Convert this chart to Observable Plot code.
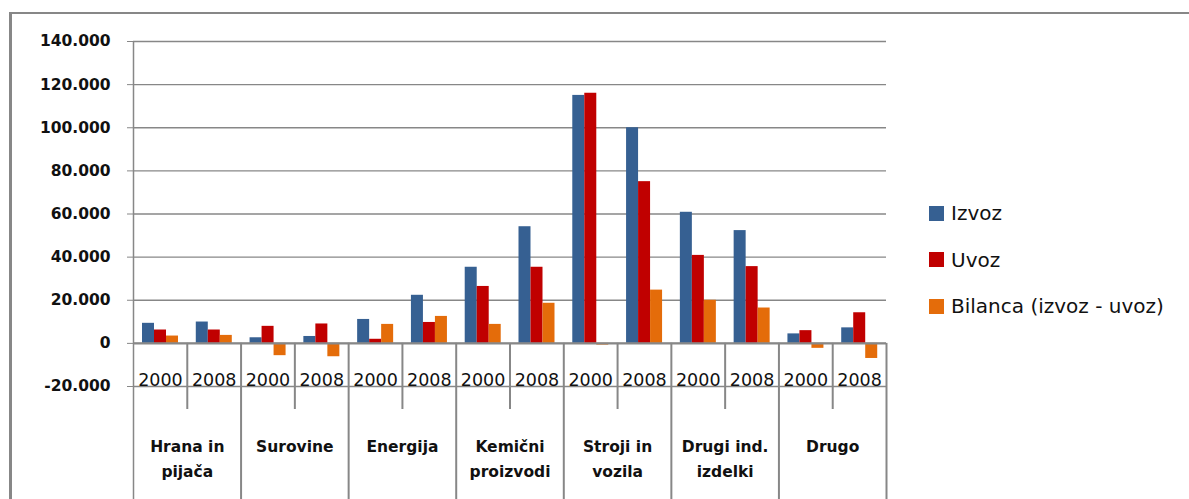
<!DOCTYPE html>
<html><head><meta charset="utf-8">
<script src="https://cdn.jsdelivr.net/npm/d3@7"></script>
<script src="https://cdn.jsdelivr.net/npm/@observablehq/plot@0.6"></script>
<style>
body{margin:0;background:#fff;width:1189px;height:499px;overflow:hidden;position:relative;font-family:"DejaVu Sans",sans-serif}
#frame{position:absolute;left:9px;top:12px;width:1300px;height:600px;border-left:3px solid #878787;border-top:2px solid #878787;box-sizing:border-box}
#chart{position:absolute;left:0;top:0}
#legend{position:absolute;left:929px;top:190px}
.item{display:flex;align-items:center;height:46.5px;font-size:20px;color:#111;white-space:nowrap}
.sw{width:15px;height:15px;margin-right:7px;flex:none}
</style></head><body>
<div id="frame"></div>
<div id="chart"></div>
<div id="legend"></div>
<script>
// ---- data ----
const categories = ["Hrana in\npijača", "Surovine", "Energija", "Kemični\nproizvodi", "Stroji in\nvozila", "Drugi ind.\nizdelki", "Drugo"];
const years = ["2000", "2008"];
const seriesNames = ["Izvoz", "Uvoz", "Bilanca (izvoz - uvoz)"];
const seriesColors = ["#366092", "#C00000", "#E46C0A"];
// order: for each category, 2000 then 2008
const izvoz   = [9300, 9900, 2600, 3200, 11100, 22300, 35300, 54100, 115000, 100000, 60800, 52300, 4400, 7200];
const uvoz    = [6200, 6200, 7900, 9000, 1900, 9700, 26400, 35300, 116000, 75000, 40800, 35600, 5900, 14200];
const bilanca = [3400, 3700, -5700, -6200, 8800, 12500, 8800, 18600, -800, 24700, 20000, 16400, -2300, -7000];
const yTicks = [-20000, 0, 20000, 40000, 60000, 80000, 100000, 120000, 140000];

// ---- build ----
const seriesVals = [izvoz, uvoz, bilanca];
const rows = [];
categories.forEach((c, ci) => years.forEach((yr, yi) => {
  const i = ci * 2 + yi;
  rows.push({key: c + "|" + yr, cat: c, year: yr, vals: seriesVals.map(s => s[i]), first: yi === 0});
}));
const keys = rows.map(d => d.key);

const W = 1189, H = 499, mL = 133, mR = 303, mT = 41, mB = 113;
const bw = (W - mL - mR) / keys.length;
const barW = 12, gapL = 9;
const grey = "#878787";
const fmt = d3.formatLocale({decimal: ",", thousands: ".", grouping: [3], currency: ["", ""], minus: "-"}).format(",");

const marks = [
  Plot.gridY(yTicks, {stroke: grey, strokeOpacity: 1, strokeWidth: 1.3}),
  Plot.axisY(yTicks, {tickSize: 6, tickPadding: 17, tickFormat: fmt, fontSize: 15.5, fontWeight: "bold", stroke: grey, fill: "#111", label: null})
];
seriesVals.forEach((s, j) => {
  marks.push(Plot.barY(rows, {
    x: "key", y: d => d.vals[j], fill: seriesColors[j],
    insetLeft: gapL + j * barW, insetRight: bw - gapL - (j + 1) * barW
  }));
});
marks.push(
  Plot.ruleY([0], {stroke: grey, strokeWidth: 2.2}),
  // left axis line
  Plot.ruleX([keys[0]], {x: d => d, dx: -bw / 2, insetBottom: -mB, stroke: grey, strokeWidth: 1.5}),
  // category dividers
  Plot.ruleX(rows.filter(d => d.first).slice(1), {x: "key", y1: 0, y2: -20000, dx: -bw / 2, insetBottom: -mB, stroke: grey, strokeWidth: 2}),
  Plot.ruleX([keys[keys.length - 1]], {x: d => d, y1: 0, y2: -20000, dx: bw / 2, insetBottom: -mB, stroke: grey, strokeWidth: 2}),
  // year dividers
  Plot.ruleX(rows.filter(d => !d.first), {x: "key", y1: 0, y2: -20000, dx: -bw / 2, insetBottom: -23, stroke: grey, strokeWidth: 2}),
  // year labels
  Plot.text(rows, {x: "key", text: "year", frameAnchor: "bottom", lineAnchor: "bottom", dy: -1, fontSize: 17.5, fill: "#111"}),
  // category labels
  Plot.text(rows.filter(d => d.first), {x: "key", text: "cat", dx: bw / 2, frameAnchor: "bottom", lineAnchor: "top", dy: 48, lineHeight: 1.6, fontSize: 15.5, fontWeight: "bold", fill: "#111"})
);

const chart = Plot.plot({
  width: W, height: H,
  marginLeft: mL, marginRight: mR, marginTop: mT, marginBottom: mB,
  x: {type: "band", domain: keys, padding: 0, round: false, axis: null},
  y: {domain: [-20000, 140000], axis: null},
  style: {fontFamily: "DejaVu Sans, sans-serif", background: "transparent", overflow: "visible"},
  marks
});
document.getElementById("chart").appendChild(chart);

const legend = document.getElementById("legend");
seriesNames.forEach((n, j) => {
  const it = document.createElement("div");
  it.className = "item";
  const sw = document.createElement("span");
  sw.className = "sw"; sw.style.background = seriesColors[j];
  const t = document.createElement("span");
  t.textContent = n;
  it.appendChild(sw); it.appendChild(t);
  legend.appendChild(it);
});
</script>
</body></html>
